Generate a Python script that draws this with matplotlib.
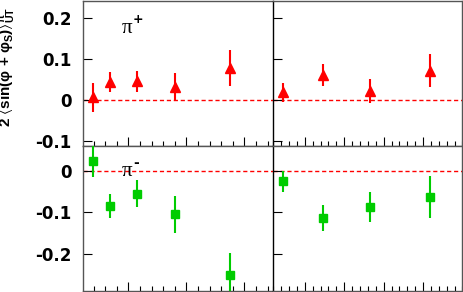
import matplotlib
matplotlib.use('Agg')
import matplotlib.pyplot as plt
from matplotlib.ticker import MultipleLocator, FixedLocator, NullFormatter

# ---- data ----
x_bins = [0.0384, 0.0685, 0.1151, 0.1795, 0.2745]
z_bins = [0.2454, 0.3449, 0.4654, 0.6177]

pip_x = [0.0065, 0.0445, 0.0455, 0.031, 0.078]
pip_x_err = [0.0355, 0.0245, 0.0255, 0.0345, 0.0445]
pip_z = [0.0185, 0.061, 0.022, 0.072]
pip_z_err = [0.0225, 0.027, 0.029, 0.040]

pim_x = [0.023, -0.086, -0.055, -0.105, -0.251]
pim_x_err = [0.039, 0.029, 0.033, 0.044, 0.053]
pim_z = [-0.026, -0.114, -0.0875, -0.0635]
pim_z_err = [0.025, 0.031, 0.0355, 0.0495]

top_yticks = [-0.1, 0, 0.1, 0.2]
top_ylabels = ['-0.1', '0', '0.1', '0.2']
bot_yticks = [-0.2, -0.1, 0]
bot_ylabels = ['-0.2', '-0.1', '0']

plt.rcParams['mathtext.default'] = 'regular'

W, H = 463, 292
fig = plt.figure(figsize=(W / 100, H / 100), dpi=100)

def px_axes(x0, y0, x1, y1):
    return fig.add_axes([x0 / W, 1 - y1 / H, (x1 - x0) / W, (y1 - y0) / H])

xl0, xmid, xr1 = 83.3, 273.3, 462.5
yt0, ymid, yb1 = 1.0, 146.0, 291.0

ax_tl = px_axes(xl0, yt0, xmid, ymid)
ax_tr = px_axes(xmid, yt0, xr1, ymid)
ax_bl = px_axes(xl0, ymid, xmid, yb1)
ax_br = px_axes(xmid, ymid, xr1, yb1)

red = '#ff0000'
green = '#00cc00'

def style(ax, left_panel, top_panel):
    if left_panel:
        ax.set_xlim(0.022, 0.35)
        ax.xaxis.set_major_locator(FixedLocator([0.1, 0.2, 0.3]))
    else:
        ax.set_xlim(0.22, 0.70)
        ax.xaxis.set_major_locator(FixedLocator([0.3, 0.4, 0.5, 0.6]))
    ax.xaxis.set_minor_locator(MultipleLocator(0.02))
    ax.xaxis.set_major_formatter(NullFormatter())
    if top_panel:
        ax.set_ylim(-0.112, 0.2415)
        ax.set_yticks(top_yticks)
        ax.set_yticklabels(top_ylabels)
    else:
        ax.set_ylim(-0.290, 0.0595)
        ax.set_yticks(bot_yticks)
        ax.set_yticklabels(bot_ylabels)
    ax.tick_params(axis='both', which='both', direction='in', top=False, right=False,
                   color='black', width=0.8)
    ax.tick_params(axis='x', which='major', length=6.5)
    ax.tick_params(axis='x', which='minor', length=3.6)
    ax.tick_params(axis='y', which='major', length=6.5, pad=8.5, labelsize=12)
    ax.tick_params(axis='y', which='minor', left=False)
    for lab in ax.get_yticklabels():
        lab.set_fontweight('bold')
        lab.set_family('DejaVu Sans')
    if not left_panel:
        ax.tick_params(axis='y', labelleft=False)
    for s in ax.spines.values():
        s.set_color('#555555')
        s.set_linewidth(1.0)
    if left_panel:
        ax.spines['right'].set_visible(False)
    else:
        ax.spines['left'].set_color('black')
    ax.axhline(0, color=red, lw=1.0, ls=(0, (3, 2)), zorder=1)

for ax, lp, tp in [(ax_tl, True, True), (ax_tr, False, True), (ax_bl, True, False), (ax_br, False, False)]:
    style(ax, lp, tp)

ekw = dict(ls='none', capsize=0, elinewidth=1.5, zorder=3)
ax_tl.errorbar(x_bins, pip_x, yerr=pip_x_err, marker='^', ms=6.8, color=red, mec=red, **ekw)
ax_tr.errorbar(z_bins, pip_z, yerr=pip_z_err, marker='^', ms=6.8, color=red, mec=red, **ekw)
ax_bl.errorbar(x_bins, pim_x, yerr=pim_x_err, marker='s', ms=6.0, color=green, mec=green, **ekw)
ax_br.errorbar(z_bins, pim_z, yerr=pim_z_err, marker='s', ms=6.0, color=green, mec=green, **ekw)

ax_tl.text(0.2, 0.78, 'π', transform=ax_tl.transAxes, fontsize=15,
           family=['Liberation Serif', 'DejaVu Serif'], ha='left', va='baseline')
ax_tl.text(0.262, 0.845, '+', transform=ax_tl.transAxes, fontsize=9,
           family=['DejaVu Sans'], fontweight='bold', ha='left', va='baseline')
ax_bl.text(0.2, 0.79, 'π', transform=ax_bl.transAxes, fontsize=15,
           family=['Liberation Serif', 'DejaVu Serif'], ha='left', va='baseline')
ax_bl.text(0.265, 0.855, '-', transform=ax_bl.transAxes, fontsize=10,
           family=['DejaVu Sans'], fontweight='bold', ha='left', va='baseline')

label = r'2 $\langle$sin(φ + φ$_{S}$)$\rangle^{\pi}_{UT}$'
fig.text(8.5 / W, 1 - 67 / H, label, rotation=90, ha='center', va='center',
         fontsize=11, fontweight='bold', family=['Liberation Sans', 'DejaVu Sans'])

fig.savefig('out.png', dpi=100)
